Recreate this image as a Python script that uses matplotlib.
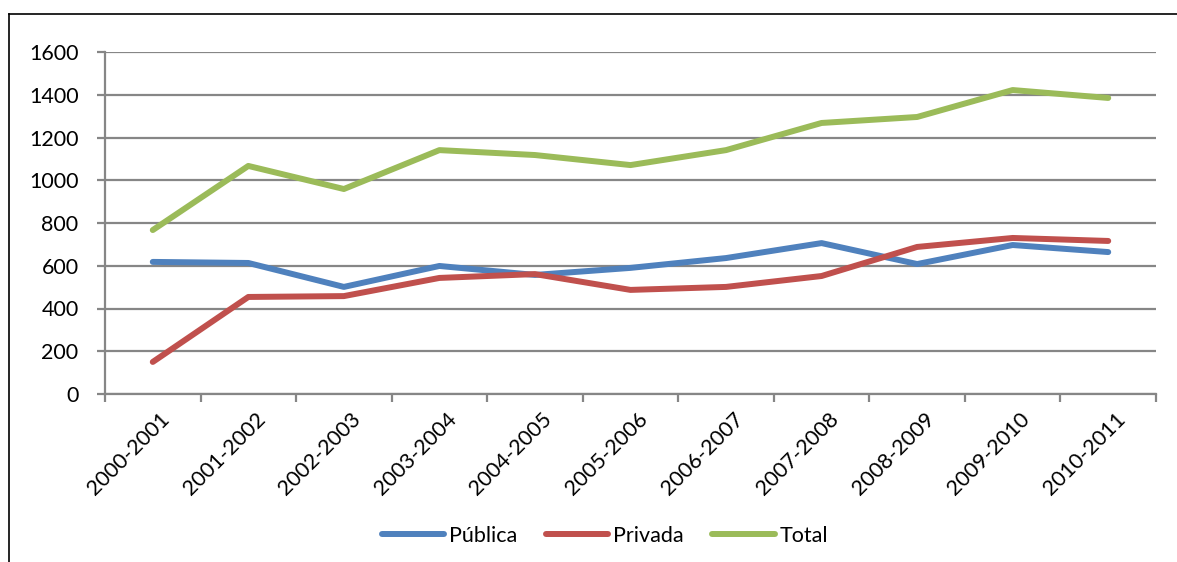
import matplotlib
matplotlib.use("Agg")
from matplotlib import pyplot as plt
from matplotlib.lines import Line2D
import matplotlib.transforms as mtransforms
import numpy as np

periods = [
    "2000-2001", "2001-2002", "2002-2003", "2003-2004", "2004-2005", "2005-2006",
    "2006-2007", "2007-2008", "2008-2009", "2009-2010", "2010-2011",
]
publica = [618, 613, 501, 599, 557, 590, 636, 706, 608, 697, 664]
privada = [150, 454, 458, 543, 561, 487, 501, 552, 688, 730, 716]
total = [767, 1067, 959, 1141, 1118, 1071, 1141, 1268, 1296, 1422, 1385]
y_ticks = [0, 200, 400, 600, 800, 1000, 1200, 1400, 1600]

plt.rcParams["font.family"] = ["Lato", "DejaVu Sans"]

grid_gray = "#868686"
fs = 15.5

fig = plt.figure(figsize=(11.77, 5.62), dpi=100)
ax = fig.add_axes([105 / 1177, 1 - 394 / 562, (1156 - 105) / 1177, (394 - 52) / 562])

x = np.arange(len(periods))
ax.plot(x, publica, color="#4F81BD", linewidth=4.3, label="Pública", solid_capstyle="round")
ax.plot(x, privada, color="#C0504D", linewidth=4.3, label="Privada", solid_capstyle="round")
ax.plot(x, total, color="#9BBB59", linewidth=4.3, label="Total", solid_capstyle="round")

ax.set_xlim(-0.5, len(periods) - 0.5)
ax.set_ylim(0, 1600)
ax.set_yticks(y_ticks)
ax.yaxis.grid(True, color=grid_gray, linewidth=1.6)
ax.set_axisbelow(True)

# category boundaries get the tick marks, labels sit at the centers
ax.set_xticks(np.arange(-0.5, len(periods), 1.0))
ax.set_xticklabels([])
ax.set_xticks(x, minor=True)
ax.set_xticklabels(periods, minor=True, rotation=45, ha="right", va="center",
                   rotation_mode="anchor", fontsize=fs)
ax.tick_params(axis="x", which="minor", length=0, pad=16)
ax.tick_params(axis="x", which="major", length=6, width=1.6, color=grid_gray)
ax.tick_params(axis="y", length=6, width=1.6, color=grid_gray, labelsize=fs, pad=13)

for side in ["top", "right"]:
    ax.spines[side].set_visible(False)
for side in ["left", "bottom"]:
    ax.spines[side].set_color(grid_gray)
    ax.spines[side].set_linewidth(1.6)

# small shift so the rotated labels end near the category center
offset = mtransforms.ScaledTranslation(14 / 100, 0, fig.dpi_scale_trans)
for lbl in ax.get_xticklabels(minor=True):
    lbl.set_transform(lbl.get_transform() + offset)

fig.legend(loc="center", bbox_to_anchor=(605 / 1177, 1 - 536 / 562), ncol=3,
           frameon=False, fontsize=fs, handlelength=2.9, columnspacing=1.3,
           handletextpad=0.25)

# chart border (top and left edges visible)
fig.add_artist(Line2D([9 / 1177, 1], [1 - 14 / 562, 1 - 14 / 562], color="black",
                      linewidth=1.2, transform=fig.transFigure))
fig.add_artist(Line2D([9 / 1177, 9 / 1177], [0, 1 - 14 / 562], color="black",
                      linewidth=1.2, transform=fig.transFigure))

fig.savefig("out.png", dpi=100)
